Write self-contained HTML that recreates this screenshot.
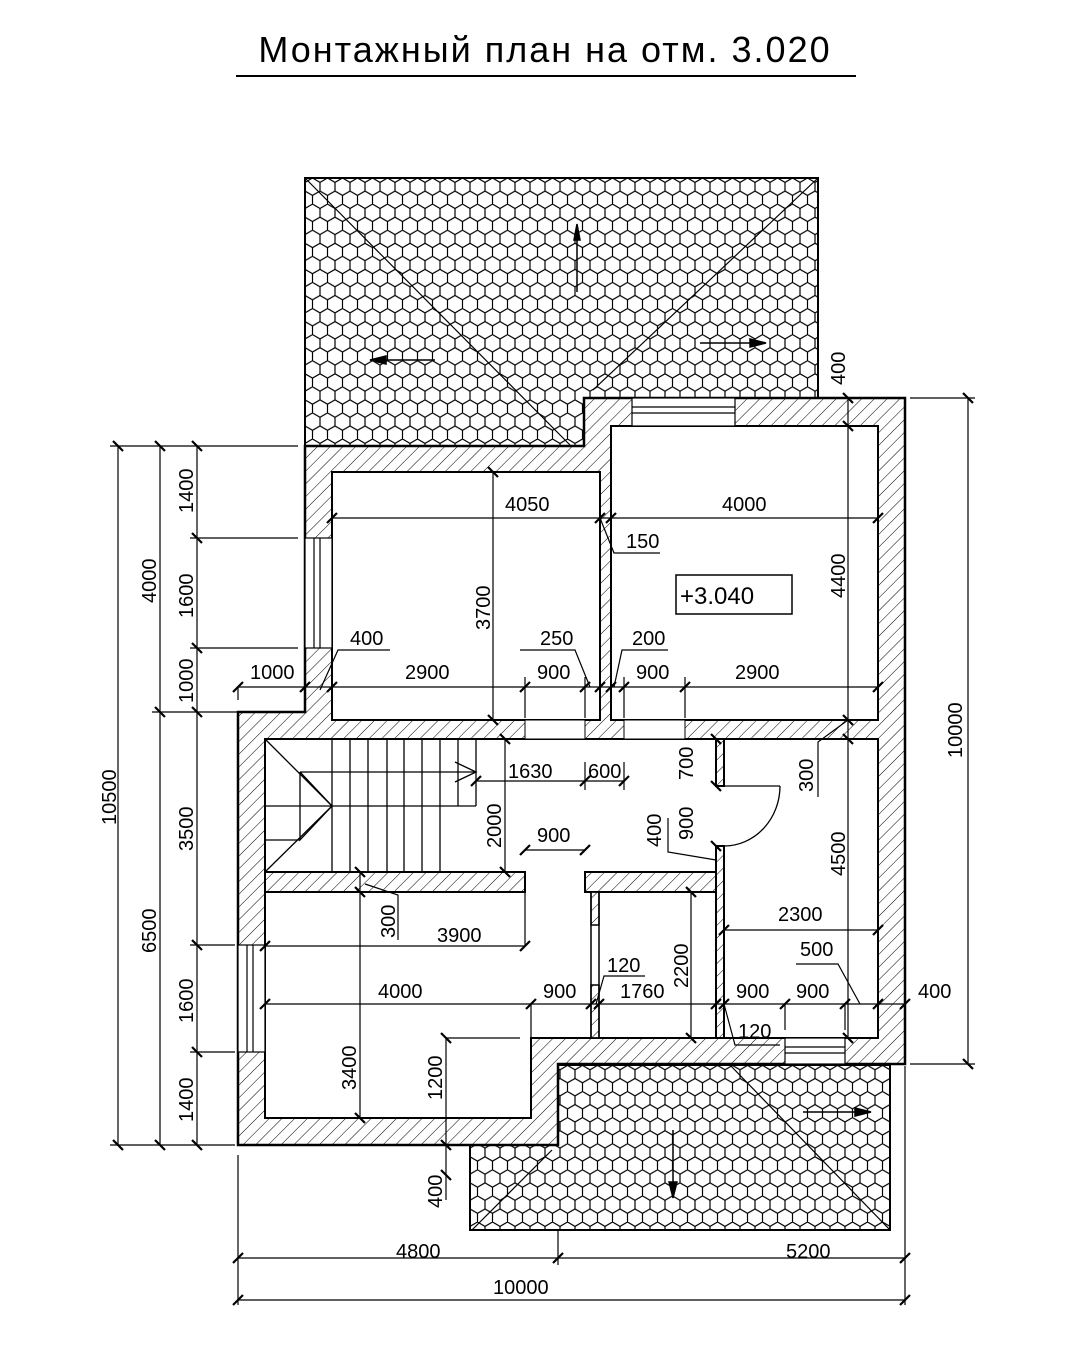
<!DOCTYPE html>
<html><head><meta charset="utf-8"><style>
body{margin:0;background:#fff}
svg text{font-family:"Liberation Sans",sans-serif;font-size:20px;fill:#000}
</style></head><body>
<svg width="1080" height="1343" viewBox="0 0 1080 1343" xmlns="http://www.w3.org/2000/svg">
<defs>
<pattern id="h" width="9" height="9" patternUnits="userSpaceOnUse" patternTransform="rotate(45)">
<line x1="0" y1="0" x2="0" y2="9" stroke="#000" stroke-width="1"/></pattern>
<pattern id="x" width="15" height="26.1" patternUnits="userSpaceOnUse" x="305" y="178">
<polyline points="0,13.05 0,4.35 7.5,0 15,4.35 15,13.05 7.5,17.4 0,13.05" fill="none" stroke="#000" stroke-width="1.2"/>
<line x1="7.5" y1="17.4" x2="7.5" y2="26.1" stroke="#000" stroke-width="1.2"/></pattern>
</defs>
<rect width="1080" height="1343" fill="#fff"/>
<text x="545" y="62" text-anchor="middle" style="font-size:36px;letter-spacing:2px">Монтажный план на отм. 3.020</text>
<line x1="236" y1="76" x2="856" y2="76" stroke="#000" stroke-width="2"/>

<!-- roofs -->
<polygon points="305,178 818,178 818,398 584,398 584,446 305,446" fill="url(#x)" stroke="#000" stroke-width="2"/>
<g stroke="#000" stroke-width="1.2" fill="none">
<line x1="305" y1="178" x2="570" y2="445"/><line x1="818" y1="178" x2="593" y2="390"/>
</g>
<polygon points="558,1065 890,1065 890,1230 470,1230 470,1145 558,1145" fill="url(#x)" stroke="#000" stroke-width="2"/>
<g stroke="#000" stroke-width="1.2"><line x1="730" y1="1065" x2="890" y2="1230"/><line x1="472" y1="1230" x2="552" y2="1150"/></g>
<g stroke="#000" stroke-width="1.5" fill="#000">
<line x1="577" y1="230" x2="577" y2="292"/><polygon points="574,240 577,224 580,240"/>
<line x1="372" y1="360" x2="435" y2="360"/><polygon points="386,356 370,360 386,364"/>
<line x1="700" y1="343" x2="765" y2="343"/><polygon points="750,339 766,343 750,347"/>
<line x1="803" y1="1112" x2="870" y2="1112"/><polygon points="855,1108 871,1112 855,1116"/>
<line x1="673" y1="1130" x2="673" y2="1198"/><polygon points="669,1182 673,1198 677,1182"/>
</g>

<!-- walls -->
<polygon points="305,446 584,446 584,398 905,398 905,1064 558,1064 558,1145 238,1145 238,712 305,712" fill="url(#h)" stroke="#000" stroke-width="2.5"/>
<g fill="#fff" stroke="#000" stroke-width="2">
<rect x="332" y="472" width="268" height="248"/>
<rect x="611" y="426" width="267" height="294"/>
<polygon points="265,739 878,739 878,1038 531,1038 531,1118 265,1118"/>
<rect x="525" y="720" width="60" height="19" stroke-width="1"/>
<rect x="624" y="720" width="61" height="19" stroke-width="1"/>
</g>
<g fill="url(#h)" stroke="#000" stroke-width="2">
<rect x="265" y="872" width="260" height="20"/>
<rect x="585" y="872" width="131" height="20"/>
<rect x="716" y="739" width="8" height="47"/>
<rect x="716" y="846" width="8" height="192"/>
<rect x="591" y="892" width="8" height="146" fill="#fff" stroke-width="1.5"/>
<rect x="591" y="892" width="8" height="33" stroke-width="1.5"/>
<rect x="591" y="985" width="8" height="53" stroke-width="1.5"/>
</g>
<!-- windows -->
<g fill="#fff" stroke="#000" stroke-width="1.2">
<rect x="305" y="538" width="27" height="110"/><line x1="314" y1="538" x2="314" y2="648"/><line x1="320" y1="538" x2="320" y2="648"/>
<rect x="238" y="945" width="27" height="107"/><line x1="247" y1="945" x2="247" y2="1052"/><line x1="253" y1="945" x2="253" y2="1052"/>
<rect x="632" y="398" width="103" height="28"/><line x1="632" y1="407" x2="735" y2="407"/><line x1="632" y1="413" x2="735" y2="413"/>
<rect x="785" y="1038" width="60" height="26"/><line x1="785" y1="1047" x2="845" y2="1047"/><line x1="785" y1="1053" x2="845" y2="1053"/>
</g>
<!-- door -->
<g stroke="#000" stroke-width="1.3" fill="none">
<line x1="724" y1="786" x2="780" y2="786"/><path d="M780,786 A56,60 0 0 1 724,846"/>
</g>
<!-- stairs -->
<g stroke="#000" stroke-width="1.3" fill="none">
<line x1="332" y1="739" x2="332" y2="872"/><line x1="350" y1="739" x2="350" y2="872"/><line x1="368" y1="739" x2="368" y2="872"/>
<line x1="387" y1="739" x2="387" y2="872"/><line x1="404" y1="739" x2="404" y2="872"/><line x1="422" y1="739" x2="422" y2="872"/>
<line x1="440" y1="739" x2="440" y2="872"/><line x1="458" y1="739" x2="458" y2="806"/><line x1="476" y1="739" x2="476" y2="806"/>
<line x1="300" y1="772" x2="476" y2="772"/><line x1="265" y1="806" x2="476" y2="806"/>
<polyline points="300,772 300,840 332,806 300,772"/>
<line x1="265" y1="739" x2="332" y2="806"/><line x1="265" y1="872" x2="332" y2="806"/>
<line x1="300" y1="840" x2="265" y2="840"/>
<polyline points="455,762 476,772 455,782"/>
</g>
<!-- +3.040 -->
<rect x="676" y="575" width="116" height="39" fill="#fff" stroke="#000" stroke-width="1.5"/>
<text x="680" y="604" style="font-size:24px">+3.040</text>

<!-- dimension lines -->
<g stroke="#000" stroke-width="1.2" fill="none">
<line x1="238" y1="687" x2="878" y2="687"/>
<line x1="332" y1="518" x2="878" y2="518"/>
<line x1="493" y1="472" x2="493" y2="720"/>
<line x1="848" y1="398" x2="848" y2="1038"/>
<line x1="476" y1="781" x2="625" y2="781"/>
<line x1="505" y1="739" x2="505" y2="872"/>
<line x1="525" y1="850" x2="585" y2="850"/>
<line x1="360" y1="872" x2="360" y2="1118"/>
<line x1="265" y1="946" x2="525" y2="946"/>
<line x1="265" y1="1004" x2="905" y2="1004"/>
<line x1="724" y1="930" x2="878" y2="930"/>
<line x1="691" y1="892" x2="691" y2="1038"/>
<line x1="446" y1="1038" x2="446" y2="1200"/>
<line x1="446" y1="1038" x2="520" y2="1038"/>
<line x1="118" y1="446" x2="118" y2="1145"/>
<line x1="160" y1="446" x2="160" y2="1145"/>
<line x1="197" y1="446" x2="197" y2="1145"/>
<line x1="238" y1="1258" x2="905" y2="1258"/>
<line x1="238" y1="1300" x2="905" y2="1300"/>
<line x1="968" y1="398" x2="968" y2="1064"/>
<line x1="238" y1="1155" x2="238" y2="1305"/>
<line x1="905" y1="1066" x2="905" y2="1305"/>
<line x1="558" y1="1230" x2="558" y2="1265"/>
<line x1="910" y1="398" x2="975" y2="398"/><line x1="910" y1="1064" x2="975" y2="1064"/>
<line x1="110" y1="446" x2="298" y2="446"/><line x1="190" y1="538" x2="298" y2="538"/>
<line x1="190" y1="648" x2="298" y2="648"/><line x1="152" y1="712" x2="298" y2="712"/>
<line x1="190" y1="945" x2="235" y2="945"/><line x1="190" y1="1052" x2="235" y2="1052"/>
<line x1="110" y1="1145" x2="235" y2="1145"/>
<line x1="238" y1="687" x2="238" y2="700"/>
<line x1="525" y1="677" x2="525" y2="718"/><line x1="585" y1="677" x2="585" y2="718"/>
<line x1="624" y1="677" x2="624" y2="718"/><line x1="685" y1="677" x2="685" y2="718"/>
<line x1="525" y1="892" x2="525" y2="946"/><line x1="531" y1="1004" x2="531" y2="1038"/>
<line x1="785" y1="1004" x2="785" y2="1030"/><line x1="845" y1="1004" x2="845" y2="1030"/>
<line x1="585" y1="762" x2="585" y2="790"/><line x1="624" y1="762" x2="624" y2="790"/>
<!-- leaders -->
<polyline points="600,518 614,553 660,553"/>
<polyline points="590,687 575,650 520,650"/>
<polyline points="614,687 622,650 668,650"/>
<polyline points="320,690 338,650 390,650"/>
<polyline points="848,720 818,742 818,797"/>
<polyline points="365,884 398,895 398,940"/>
<polyline points="716,860 668,852 668,818"/>
<polyline points="860,1004 838,964 796,964"/>
<polyline points="596,1004 604,976 645,976"/>
<polyline points="724,1004 735,1045 780,1045"/>
</g>
<!-- ticks -->
<g stroke="#000" stroke-width="2.2">
<path d="M233,692l10,-10M300,692l10,-10M327,692l10,-10M520,692l10,-10M580,692l10,-10M595,692l10,-10M606,692l10,-10M619,692l10,-10M680,692l10,-10M873,692l10,-10
M327,523l10,-10M595,523l10,-10M606,523l10,-10M873,523l10,-10
M488,467l10,10M488,715l10,10
M843,393l10,10M843,421l10,10M843,715l10,10M843,734l10,10M843,1033l10,10
M471,786l10,-10M580,786l10,-10M619,786l10,-10
M500,734l10,10M500,867l10,10
M520,855l10,-10M580,855l10,-10
M711,734l10,10M711,781l10,10M711,841l10,10
M355,867l10,10M355,887l10,10M355,1113l10,10
M260,951l10,-10M520,951l10,-10
M260,1009l10,-10M526,1009l10,-10M586,1009l10,-10M594,1009l10,-10M711,1009l10,-10M719,1009l10,-10M780,1009l10,-10M840,1009l10,-10M873,1009l10,-10M900,1009l10,-10
M719,935l10,-10M873,935l10,-10
M686,887l10,10M686,1033l10,10
M441,1033l10,10M441,1140l10,10M441,1170l10,10
M113,441l10,10M113,1140l10,10
M155,441l10,10M155,707l10,10M155,1140l10,10
M192,441l10,10M192,533l10,10M192,643l10,10M192,707l10,10M192,940l10,10M192,1047l10,10M192,1140l10,10
M233,1263l10,-10M553,1263l10,-10M900,1263l10,-10M233,1305l10,-10M900,1305l10,-10
M963,393l10,10M963,1059l10,10"/>
</g>
<!-- texts -->
<text x="505" y="511">4050</text>
<text x="722" y="511">4000</text>
<text x="626" y="548">150</text>
<text x="250" y="679">1000</text>
<text x="405" y="679">2900</text>
<text x="537" y="679">900</text>
<text x="636" y="679">900</text>
<text x="735" y="679">2900</text>
<text x="350" y="645">400</text>
<text x="540" y="645">250</text>
<text x="632" y="645">200</text>
<text x="508" y="778">1630</text>
<text x="588" y="778">600</text>
<text x="537" y="842">900</text>
<text x="437" y="942">3900</text>
<text x="378" y="998">4000</text>
<text x="543" y="998">900</text>
<text x="607" y="972">120</text>
<text x="620" y="998">1760</text>
<text x="736" y="998">900</text>
<text x="796" y="998">900</text>
<text x="800" y="956">500</text>
<text x="918" y="998">400</text>
<text x="778" y="921">2300</text>
<text x="738" y="1038">120</text>
<text x="396" y="1258">4800</text>
<text x="786" y="1258">5200</text>
<text x="493" y="1294">10000</text>
<g style="font-size:20px">
<text transform="translate(490,630) rotate(-90)">3700</text>
<text transform="translate(845,385) rotate(-90)">400</text>
<text transform="translate(845,598) rotate(-90)">4400</text>
<text transform="translate(845,876) rotate(-90)">4500</text>
<text transform="translate(813,792) rotate(-90)">300</text>
<text transform="translate(501,848) rotate(-90)">2000</text>
<text transform="translate(693,780) rotate(-90)">700</text>
<text transform="translate(693,840) rotate(-90)">900</text>
<text transform="translate(661,847) rotate(-90)">400</text>
<text transform="translate(395,938) rotate(-90)">300</text>
<text transform="translate(356,1090) rotate(-90)">3400</text>
<text transform="translate(688,988) rotate(-90)">2200</text>
<text transform="translate(442,1100) rotate(-90)">1200</text>
<text transform="translate(442,1208) rotate(-90)">400</text>
<text transform="translate(116,825) rotate(-90)">10500</text>
<text transform="translate(156,603) rotate(-90)">4000</text>
<text transform="translate(156,953) rotate(-90)">6500</text>
<text transform="translate(193,513) rotate(-90)">1400</text>
<text transform="translate(193,618) rotate(-90)">1600</text>
<text transform="translate(193,703) rotate(-90)">1000</text>
<text transform="translate(193,851) rotate(-90)">3500</text>
<text transform="translate(193,1023) rotate(-90)">1600</text>
<text transform="translate(193,1122) rotate(-90)">1400</text>
<text transform="translate(962,758) rotate(-90)">10000</text>
</g>
</svg>
</body></html>
